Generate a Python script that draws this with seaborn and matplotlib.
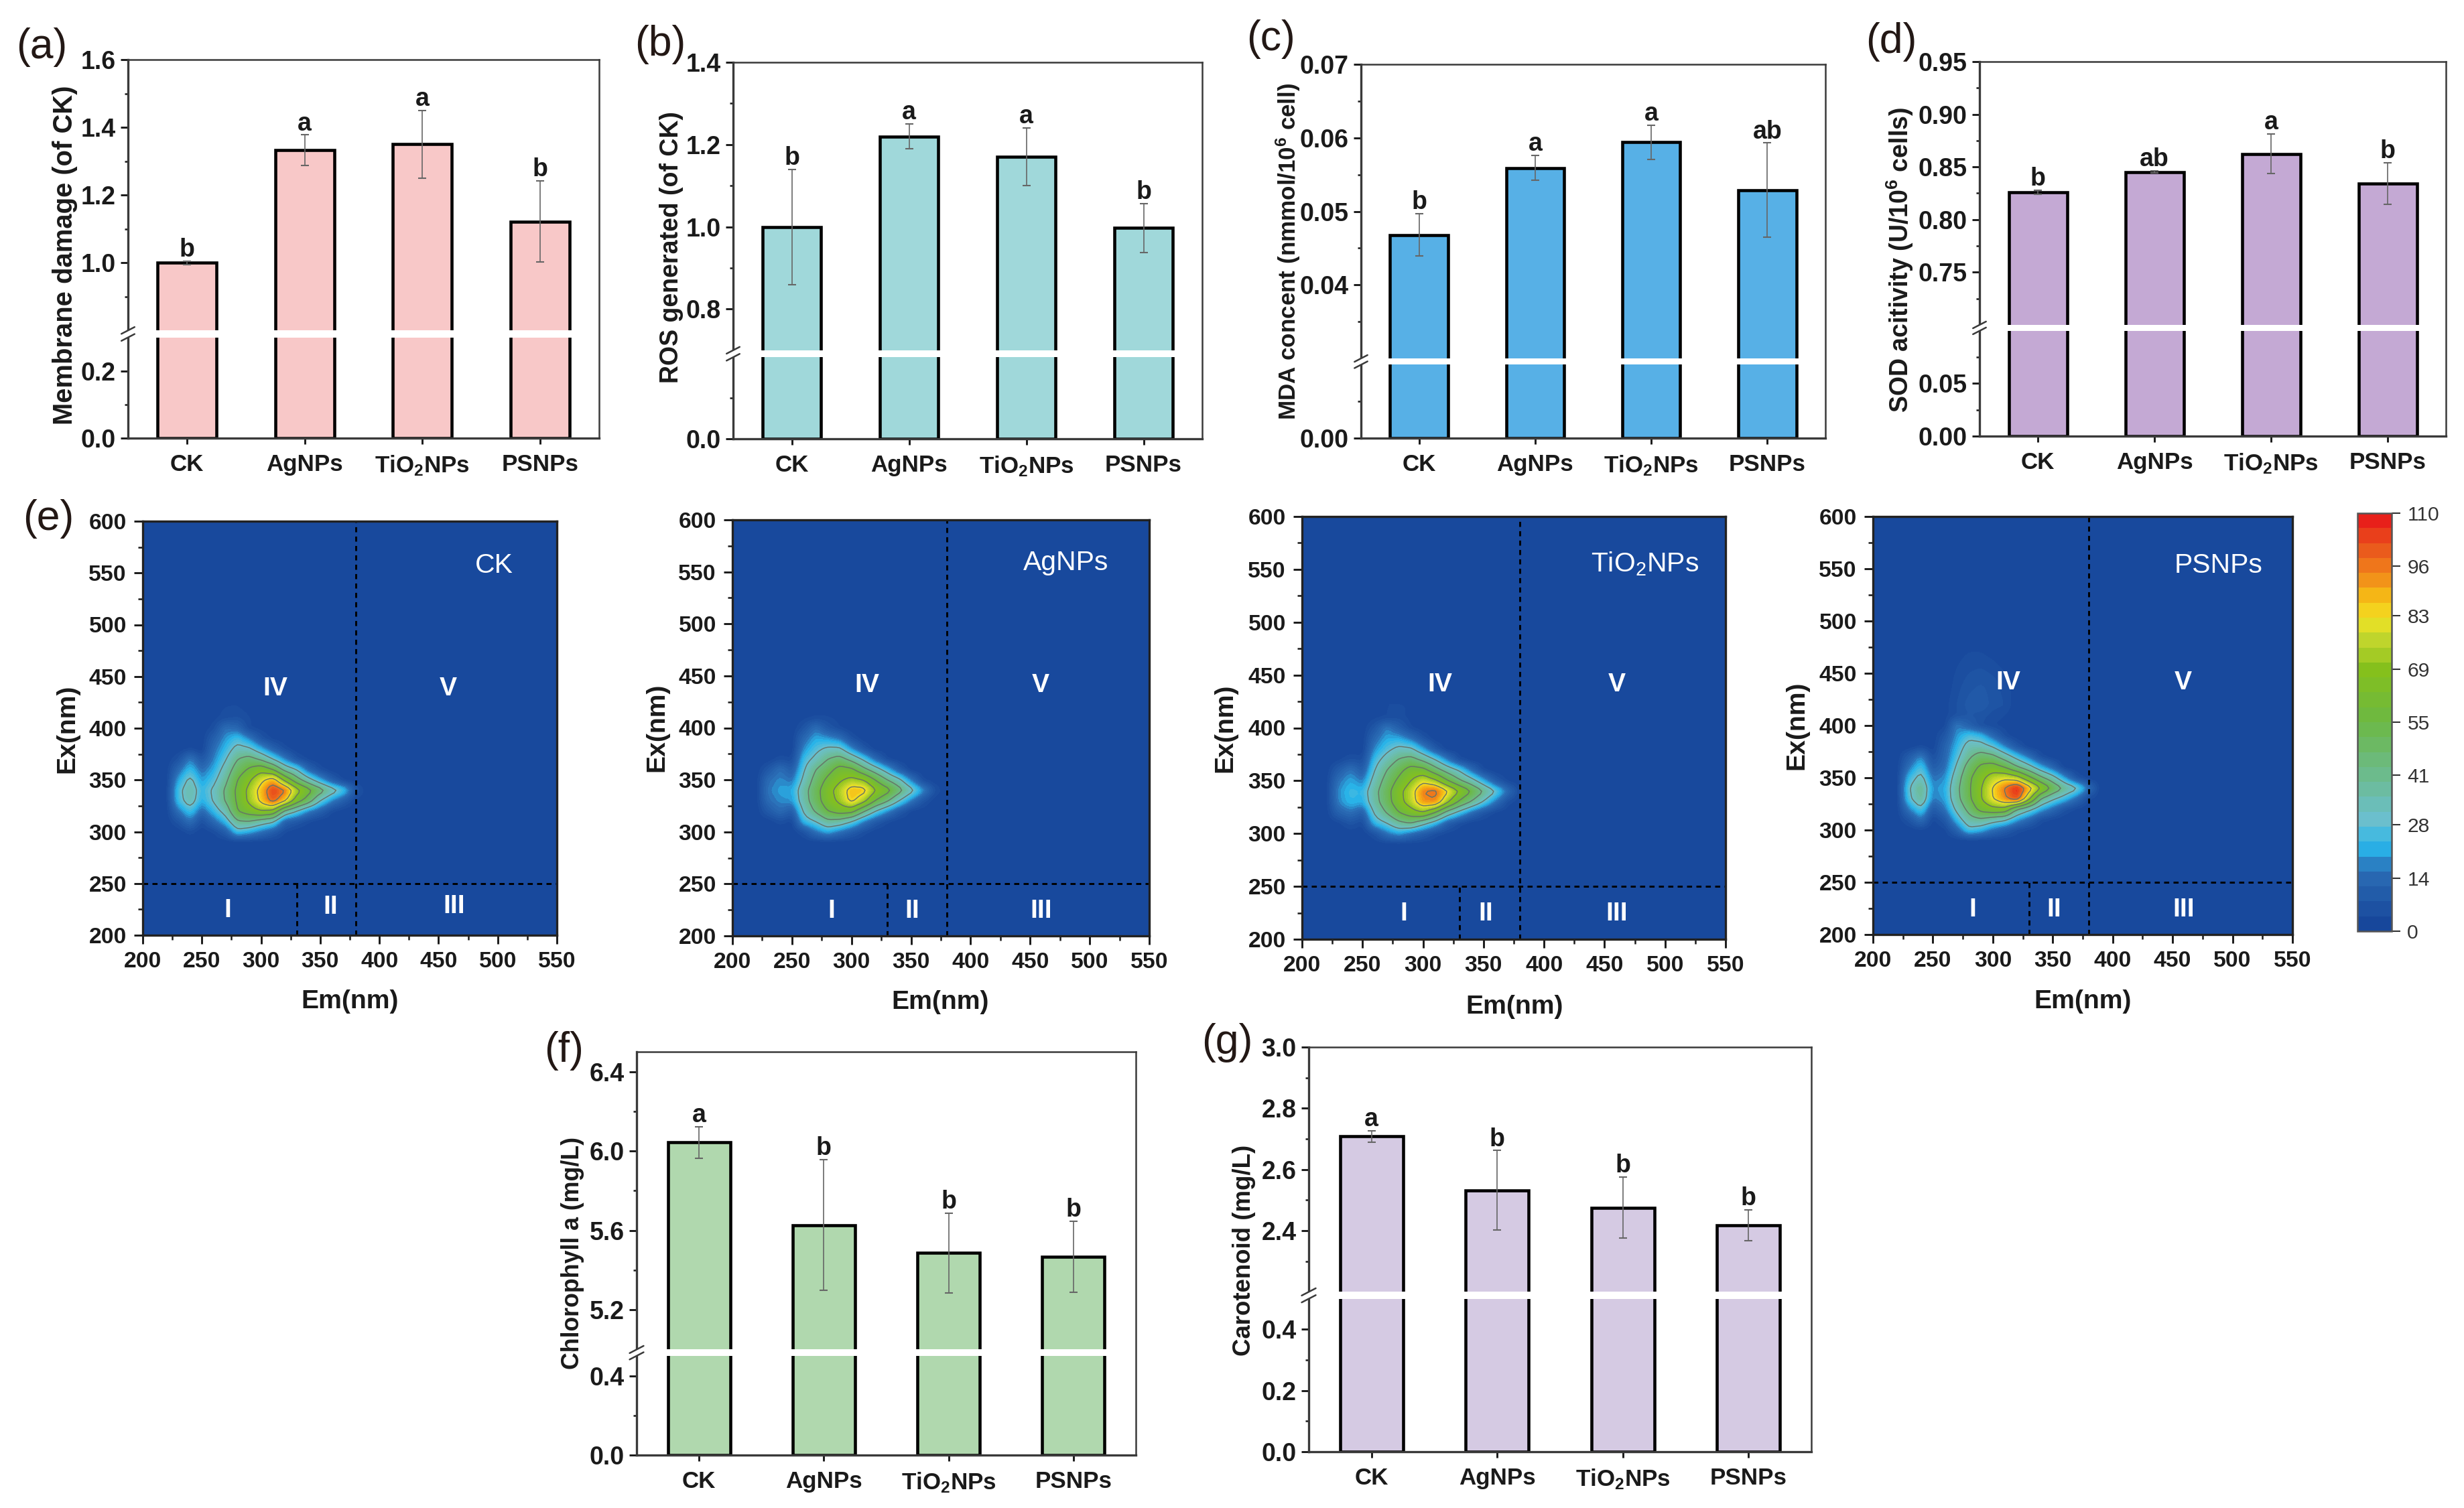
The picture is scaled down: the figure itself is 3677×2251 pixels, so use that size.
import numpy as np
import pandas as pd
import seaborn as sns
import matplotlib.pyplot as plt
from matplotlib.cm import ScalarMappable
from matplotlib.colors import BoundaryNorm, LinearSegmentedColormap
from matplotlib.patches import Rectangle

W, H = 3677, 2251

# bar panels
samples = ["CK", "AgNPs", r"TiO$_{\mathbf{2}}$NPs", "PSNPs"]

membrane = [1.0, 1.333, 1.35, 1.122]
membrane_err = [0.005, 0.045, 0.10, 0.12]
membrane_sig = ["b", "a", "a", "b"]

ros = [1.0, 1.22, 1.171, 0.997]
ros_err = [0.14, 0.03, 0.07, 0.06]
ros_sig = ["b", "a", "a", "b"]

mda = [0.0468, 0.0559, 0.0594, 0.0529]
mda_err = [0.0029, 0.0017, 0.0023, 0.0064]
mda_sig = ["b", "a", "a", "ab"]

sod = [0.8258, 0.8453, 0.8625, 0.8342]
sod_err = [0.002, 0.001, 0.019, 0.02]
sod_sig = ["b", "ab", "a", "b"]

chla = [6.043, 5.627, 5.486, 5.467]
chla_err = [0.08, 0.33, 0.20, 0.18]
chla_sig = ["a", "b", "b", "b"]

carot = [2.708, 2.532, 2.475, 2.418]
carot_err = [0.018, 0.13, 0.10, 0.05]
carot_sig = ["a", "b", "b", "b"]

# EEM intensities
em_nm = [230, 240, 250, 260, 270, 280, 290, 300, 310, 320, 330, 340, 350, 360, 370, 380]
ex_nm = [470, 440, 420, 410, 400, 390, 380, 370, 360, 350, 340, 330, 320, 310, 300]

eem_ck = [
    [0, 0, 0, 0, 1, 1, 1, 0, 0, 0, 0, 0, 0, 0, 0, 0],
    [0, 0, 0, 1, 1, 2, 1, 1, 0, 0, 0, 0, 0, 0, 0, 0],
    [0, 0, 0, 1, 2, 2, 1, 1, 0, 0, 0, 0, 0, 0, 0, 0],
    [0, 0, 0, 1, 3, 4, 2, 1, 0, 0, 0, 0, 0, 0, 0, 0],
    [0, 0, 0, 3, 14, 12, 2, 1, 0, 0, 0, 0, 0, 0, 0, 0],
    [0, 0, 0, 9, 18, 24, 16, 5, 1, 0, 0, 0, 0, 0, 0, 0],
    [0, 2, 0, 13, 22, 32, 30, 20, 10, 3, 0, 0, 0, 0, 0, 0],
    [4, 16, 6, 16, 27, 41, 46, 39, 28, 16, 5, 1, 0, 0, 0, 0],
    [12, 23, 13, 20, 33, 48, 57, 65, 55, 37, 28, 11, 3, 0, 0, 0],
    [19, 31, 18, 25, 38, 55, 67, 80, 90, 66, 47, 33, 20, 8, 1, 0],
    [24, 36, 22, 30, 43, 58, 73, 88, 106, 98, 75, 60, 47, 34, 24, 6],
    [23, 34, 20, 29, 42, 57, 72, 86, 101, 86, 62, 48, 28, 16, 8, 1],
    [14, 24, 12, 22, 33, 55, 62, 69, 66, 39, 28, 16, 9, 2, 0, 0],
    [5, 14, 3, 12, 22, 40, 41, 35, 30, 10, 6, 2, 0, 0, 0, 0],
    [0, 3, 0, 2, 8, 24, 20, 14, 8, 2, 0, 0, 0, 0, 0, 0],
]

eem_ag = [
    [0, 0, 0, 0, 1, 1, 0, 0, 0, 0, 0, 0, 0, 0, 0, 0],
    [0, 0, 0, 1, 1, 2, 1, 1, 0, 0, 0, 0, 0, 0, 0, 0],
    [0, 0, 0, 1, 1, 1, 1, 1, 1, 0, 0, 0, 0, 0, 0, 0],
    [0, 0, 0, 1, 2, 2, 1, 0, 0, 0, 0, 0, 0, 0, 0, 0],
    [0, 0, 0, 5, 14, 6, 2, 0, 0, 0, 0, 0, 0, 0, 0, 0],
    [0, 0, 0, 12, 20, 18, 14, 4, 0, 0, 0, 0, 0, 0, 0, 0],
    [0, 0, 0, 17, 25, 30, 30, 17, 6, 0, 0, 0, 0, 0, 0, 0],
    [0, 3, 2, 23, 31, 41, 46, 37, 26, 12, 2, 0, 0, 0, 0, 0],
    [6, 14, 8, 27, 41, 50, 60, 58, 45, 34, 22, 8, 0, 0, 0, 0],
    [13, 17, 14, 31, 46, 58, 67, 73, 69, 55, 41, 31, 15, 2, 0, 0],
    [15, 19, 20, 36, 50, 64, 75, 89, 88, 70, 60, 46, 32, 18, 4, 0],
    [13, 17, 18, 35, 49, 63, 72, 87, 74, 55, 43, 28, 15, 5, 0, 0],
    [7, 13, 8, 30, 43, 55, 61, 60, 43, 28, 17, 7, 1, 0, 0, 0],
    [0, 3, 1, 22, 28, 38, 36, 28, 16, 7, 2, 0, 0, 0, 0, 0],
    [0, 0, 0, 4, 14, 20, 14, 8, 3, 0, 0, 0, 0, 0, 0, 0],
]

eem_ti = [
    [0, 0, 0, 0, 1, 1, 1, 0, 0, 0, 0, 0, 0, 0, 0, 0],
    [0, 0, 1, 1, 2, 2, 1, 1, 1, 0, 0, 0, 0, 0, 0, 0],
    [0, 0, 1, 1, 2, 2, 2, 1, 1, 0, 0, 0, 0, 0, 0, 0],
    [0, 0, 0, 1, 2, 3, 1, 1, 0, 0, 0, 0, 0, 0, 0, 0],
    [0, 0, 0, 6, 16, 9, 2, 0, 0, 0, 0, 0, 0, 0, 0, 0],
    [0, 0, 0, 12, 20, 20, 14, 5, 0, 0, 0, 0, 0, 0, 0, 0],
    [0, 0, 0, 17, 25, 31, 30, 19, 7, 0, 0, 0, 0, 0, 0, 0],
    [1, 4, 3, 23, 33, 42, 46, 38, 28, 15, 3, 0, 0, 0, 0, 0],
    [8, 15, 8, 28, 41, 51, 61, 60, 47, 36, 27, 13, 2, 0, 0, 0],
    [14, 20, 15, 33, 46, 58, 69, 80, 72, 56, 43, 33, 20, 7, 1, 0],
    [17, 23, 22, 37, 50, 65, 77, 96, 100, 85, 69, 55, 41, 28, 13, 2],
    [16, 22, 20, 36, 49, 64, 76, 93, 94, 72, 53, 40, 27, 14, 3, 0],
    [10, 14, 9, 30, 42, 55, 63, 69, 55, 36, 24, 13, 5, 1, 0, 0],
    [1, 5, 2, 22, 28, 38, 42, 32, 22, 9, 3, 0, 0, 0, 0, 0],
    [0, 0, 0, 4, 14, 19, 13, 8, 3, 1, 0, 0, 0, 0, 0, 0],
]

eem_ps = [
    [0, 0, 0, 0, 1, 2, 2, 1, 0, 0, 0, 0, 0, 0, 0, 0],
    [0, 0, 0, 0, 3, 5, 6, 5, 3, 1, 0, 0, 0, 0, 0, 0],
    [0, 0, 0, 1, 4, 7, 8, 5, 4, 0, 0, 0, 0, 0, 0, 0],
    [0, 0, 0, 1, 4, 6, 5, 3, 2, 0, 0, 0, 0, 0, 0, 0],
    [0, 0, 0, 1, 16, 10, 4, 2, 1, 0, 0, 0, 0, 0, 0, 0],
    [0, 0, 0, 6, 18, 25, 22, 12, 3, 0, 0, 0, 0, 0, 0, 0],
    [0, 2, 0, 10, 21, 33, 33, 27, 16, 6, 0, 0, 0, 0, 0, 0],
    [8, 17, 3, 11, 25, 39, 48, 45, 35, 24, 14, 3, 0, 0, 0, 0],
    [14, 25, 8, 13, 30, 47, 58, 62, 55, 43, 33, 21, 11, 0, 0, 0],
    [22, 32, 14, 17, 35, 52, 65, 76, 80, 75, 59, 44, 33, 18, 4, 0],
    [27, 40, 17, 20, 38, 53, 68, 84, 97, 110, 90, 70, 52, 39, 30, 13],
    [25, 38, 15, 19, 37, 52, 68, 83, 94, 104, 73, 41, 30, 22, 12, 2],
    [15, 26, 7, 14, 31, 45, 60, 65, 65, 41, 31, 20, 12, 4, 1, 0],
    [5, 14, 1, 6, 22, 36, 39, 34, 30, 19, 11, 3, 1, 0, 0, 0],
    [0, 1, 0, 1, 10, 25, 21, 13, 8, 3, 1, 0, 0, 0, 0, 0],
]

cbar_ticks = [0, 14, 28, 41, 55, 69, 83, 96, 110]
cbar_stops = [0, 14, 21, 28, 41, 55, 69, 78, 83, 90, 96, 103, 110]
cbar_colors = ["#17479b", "#2b6cb5", "#29b6ea", "#6bbfcf", "#6cbb8a", "#6cb843", "#85c01c",
               "#c5d72e", "#f4e423", "#f5b115", "#f07f1b", "#e9531c", "#e8201a"]

sns.set_theme(style="ticks")
plt.rcParams["font.family"] = ["Liberation Sans", "DejaVu Sans"]
plt.rcParams["mathtext.fontset"] = "custom"
plt.rcParams["mathtext.rm"] = "Liberation Sans"
plt.rcParams["mathtext.bf"] = "Liberation Sans:bold"
plt.rcParams["mathtext.default"] = "regular"

TEXT = "#1a1a1a"
AXIS = "#3a3a3a"

fig = plt.figure(figsize=(W / 300, H / 300), dpi=300, facecolor="white")


def box_axes(left, top, right, bottom):
    return fig.add_axes([left / W, 1 - bottom / H, (right - left) / W, (bottom - top) / H])


def px_text(x, y, s, **kw):
    kw.setdefault("ha", "center")
    kw.setdefault("va", "center")
    kw.setdefault("color", TEXT)
    fig.text(x / W, 1 - y / H, s, **kw)


def broken_bars(box, values, errs, sig, color, bp, major, minor, ylabel, ylabel_xy, lab_size, letter, letter_xy):
    # bp = value/axis-fraction anchors of the broken y axis
    vals, fracs = zip(*bp)
    ax = box_axes(*box)
    df = pd.DataFrame({"sample": samples, "value": values})
    sns.barplot(data=df, x="sample", y="value", color=color, saturation=1, width=0.5,
                edgecolor="black", linewidth=1.1, errorbar=None, ax=ax, zorder=2)
    ax.errorbar(range(4), values, yerr=errs, fmt="none", ecolor="#666666", elinewidth=0.4,
                capsize=1.4, capthick=0.5, zorder=3)
    ax.set_yscale("function", functions=(lambda v: np.interp(v, vals, fracs),
                                         lambda f: np.interp(f, fracs, vals)))
    ax.set_xlim(-0.5, 3.5)
    ax.set_ylim(vals[0], vals[-1])
    ax.set_yticks(major)
    ax.set_yticks(minor, minor=True)
    dec = 2 if major[-1] < 1 else 1
    ax.set_yticklabels([f"{m:.{dec}f}" for m in major])
    ax.set_xlabel("")
    ax.set_ylabel("")
    ax.tick_params(axis="y", which="major", length=2.6, width=0.7, pad=1.8, labelsize=9.0, colors=TEXT)
    ax.tick_params(axis="y", which="minor", length=1.2, width=0.6, color=TEXT)
    ax.tick_params(axis="x", length=2.2, width=0.7, pad=3.4, labelsize=8.4, colors=TEXT)
    for t in ax.get_xticklabels() + ax.get_yticklabels():
        t.set_fontweight("bold")
    for name, sp in ax.spines.items():
        sp.set_visible(True)
        sp.set_color(AXIS)
        sp.set_linewidth(0.8 if name in ("left", "bottom") else 0.6)
    # the white band across the bars, and the // on the left axis
    ax.axhspan(vals[1], vals[2], xmin=0.006, xmax=0.994, color="white", lw=0, zorder=4)
    ax.add_patch(Rectangle((-0.006, fracs[1]), 0.012, fracs[2] - fracs[1], transform=ax.transAxes,
                           color="white", lw=0, clip_on=False, zorder=5))
    for f in (fracs[1], fracs[2]):
        ax.plot([-0.014, 0.014], [f - 0.009, f + 0.009], transform=ax.transAxes, color=AXIS,
                lw=0.6, clip_on=False, zorder=6)
    for i, s in enumerate(sig):
        ax.annotate(s, (i, values[i] + errs[i]), xytext=(0, 1.6), textcoords="offset points",
                    ha="center", va="baseline", fontsize=9.0, fontweight="bold", color=TEXT)
    px_text(*ylabel_xy, ylabel, rotation=90, fontsize=lab_size, fontweight="bold")
    px_text(*letter_xy, letter, fontsize=15, color="#231815")
    return ax


broken_bars((191, 89, 894, 654), membrane, membrane_err, membrane_sig, "#f8c8c8",
            [(0, 0), (0.3, 0.266), (0.8, 0.2845), (1.6, 1)],
            [0, 0.2, 1.0, 1.2, 1.4, 1.6], [0.1, 0.9, 1.1, 1.3, 1.5],
            "Membrane damage (of CK)", (97, 381), 9.6, "(a)", (62, 70))
broken_bars((1094, 93, 1794, 655), ros, ros_err, ros_sig, "#a0d8da",
            [(0, 0), (0.2, 0.2166), (0.7, 0.2351), (1.4, 1)],
            [0, 0.8, 1.0, 1.2, 1.4], [0.1, 0.9, 1.1, 1.3],
            "ROS generated (of CK)", (1002, 369), 9.0, "(b)", (985, 66))
broken_bars((2031, 96, 2724, 654), mda, mda_err, mda_sig, "#57b0e6",
            [(0, 0), (0.01, 0.1963), (0.03, 0.2132), (0.07, 1)],
            [0, 0.04, 0.05, 0.06, 0.07], [0.005, 0.035, 0.045, 0.055, 0.065],
            r"MDA concent (nmmol/10$^{\mathbf{6}}$ cell)", (1922, 375), 8.4, "(c)", (1896, 58))
broken_bars((2954, 92, 3650, 651), sod, sod_err, sod_sig, "#c4a9d4",
            [(0, 0), (0.1, 0.281), (0.7, 0.297), (0.95, 1)],
            [0, 0.05, 0.75, 0.80, 0.85, 0.90, 0.95], [0.025, 0.075, 0.725, 0.775, 0.825, 0.875, 0.925],
            r"SOD acitivity (U/10$^{\mathbf{6}}$ cells)", (2835, 388), 9.0, "(d)", (2822, 62))
broken_bars((950, 1570, 1695, 2172), chla, chla_err, chla_sig, "#b0d8ae",
            [(0, 0), (0.5, 0.246), (5.0, 0.2618), (6.5, 1)],
            [0, 0.4, 5.2, 5.6, 6.0, 6.4], [0.2, 5.4, 5.8, 6.2],
            "Chlorophyll a (mg/L)", (855, 1871), 8.6, "(f)", (842, 1569))
broken_bars((1953, 1563, 2703, 2167), carot, carot_err, carot_sig, "#d5cae3",
            [(0, 0), (0.5, 0.378), (2.2, 0.395), (3.0, 1)],
            [0, 0.2, 0.4, 2.4, 2.6, 2.8, 3.0], [0.1, 0.3, 2.3, 2.5, 2.7, 2.9],
            "Carotenoid (mg/L)", (1857, 1866), 8.8, "(g)", (1831, 1556))

# EEM panels
stops = [s / 110 for s in cbar_stops]
eem_cmap = LinearSegmentedColormap.from_list("eem", list(zip(stops, cbar_colors)))
fill_levels = np.linspace(0, 110, 56)
line_levels = [28, 41, 55, 69, 83, 96]
fine_em = np.arange(200, 550.1, 2.5)
fine_ex = np.arange(200, 600.1, 2.5)
soft = np.array([1, 2, 1]) / 4


def soften(z):
    # resample the read grid and take the corners off, the scan surface is smooth
    em_full = [200, 220] + em_nm + [390, 550]
    ex_full = [200, 280, 290] + ex_nm[::-1] + [490, 600]
    grid = np.pad(np.array(z, dtype=float)[::-1], ((3, 2), (2, 2)))
    g = np.array([np.interp(fine_em, em_full, row) for row in grid])
    g = np.array([np.interp(fine_ex, ex_full, col) for col in g.T]).T
    g = np.apply_along_axis(lambda r: np.convolve(r, soft, mode="same"), 0, g)
    return np.apply_along_axis(lambda r: np.convolve(r, soft, mode="same"), 1, g)


def eem_panel(box, z, name, name_xy, roman_xy, ex_xy, em_xy):
    ax = box_axes(*box)
    ax.set_facecolor(cbar_colors[0])
    grid = soften(z)
    ax.contourf(fine_em, fine_ex, grid, levels=fill_levels, cmap=eem_cmap, vmin=0, vmax=110)
    ax.contour(fine_em, fine_ex, grid, levels=line_levels, colors="#667568", linewidths=0.35)
    ax.set_xlim(200, 550)
    ax.set_ylim(200, 600)
    dash = dict(color="black", lw=0.7, ls=(0, (2.6, 2.2)))
    ax.plot([200, 550], [250, 250], **dash)
    ax.plot([380, 380], [200, 600], **dash)
    ax.plot([330, 330], [200, 250], **dash)
    ax.set_xticks(np.arange(200, 551, 50))
    ax.set_xticks(np.arange(225, 550, 50), minor=True)
    ax.set_yticks(np.arange(200, 601, 50))
    ax.set_yticks(np.arange(225, 600, 50), minor=True)
    ax.tick_params(which="major", length=3.2, width=0.7, pad=2.6, labelsize=8.1, colors=TEXT)
    ax.tick_params(which="minor", length=1.6, width=0.6, color=TEXT)
    for t in ax.get_xticklabels() + ax.get_yticklabels():
        t.set_fontweight("bold")
    for sp in ax.spines.values():
        sp.set_visible(True)
        sp.set_color("#222222")
        sp.set_linewidth(0.8)
    ax.text(*name_xy, name, color="white", fontsize=9.8, ha="center", va="center")
    for lab, xy in zip(["I", "II", "III", "IV", "V"], roman_xy):
        ax.text(*xy, lab, color="white", fontsize=9.4, fontweight="bold", ha="center", va="center")
    px_text(*ex_xy, "Ex(nm)", rotation=90, fontsize=9.4, fontweight="bold")
    px_text(*em_xy, "Em(nm)", fontsize=9.4, fontweight="bold")


eem_panel((213, 778, 831, 1396), eem_ck, "CK", (497, 557),
          [(272, 224), (359, 227), (463, 228), (312, 438), (458, 438)], (100, 1088), (522, 1495))
eem_panel((1093, 776, 1715, 1397), eem_ag, "AgNPs", (480, 559),
          [(283, 224), (351, 224), (459, 224), (313, 441), (459, 441)], (980, 1086), (1403, 1496))
eem_panel((1943, 771, 2575, 1402), eem_ti, "TiO$_{2}$NPs", (483, 555),
          [(284, 224), (352, 224), (460, 224), (314, 441), (460, 441)], (1828, 1087), (2260, 1503))
eem_panel((2795, 771, 3421, 1395), eem_ps, "PSNPs", (488, 553),
          [(283, 224), (351, 224), (459, 224), (313, 441), (459, 441)], (2681, 1083), (3108, 1495))
px_text(72, 774, "(e)", fontsize=15, color="#231815")

# colour bar
cax = box_axes(3518, 766, 3569, 1390)
bands = np.linspace(0, 110, 29)
sm = ScalarMappable(norm=BoundaryNorm(bands, 256), cmap=eem_cmap)
cb = fig.colorbar(sm, cax=cax, ticks=cbar_ticks, spacing="proportional")
cb.ax.set_yticklabels([str(t) for t in cbar_ticks])
cb.ax.minorticks_off()
cb.ax.tick_params(length=3.0, width=0.5, pad=2.6, labelsize=7.2, colors="#333333")
cb.outline.set_edgecolor("#555555")
cb.outline.set_linewidth(0.6)

fig.savefig("out.png", dpi=300, facecolor="white")
